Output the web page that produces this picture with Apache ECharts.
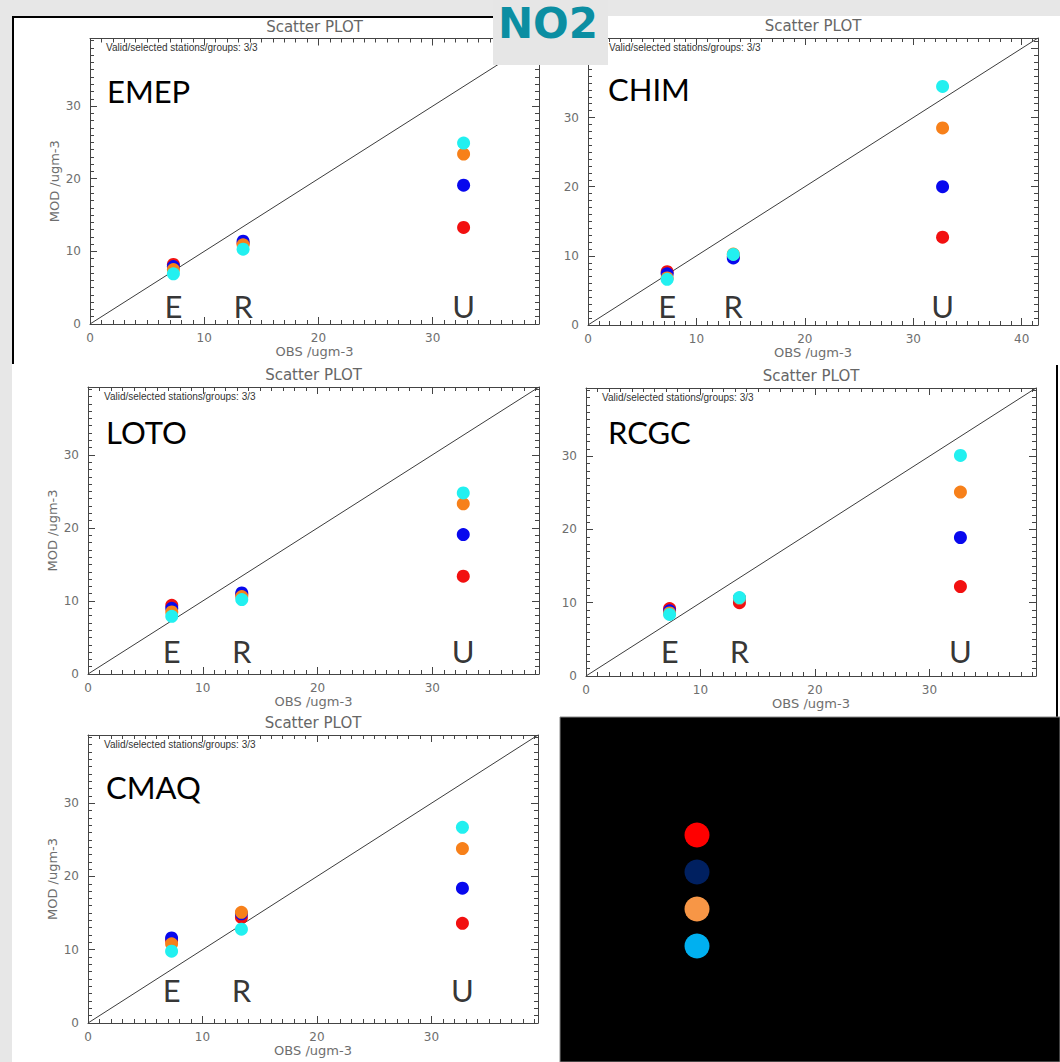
<!DOCTYPE html>
<html>
<head>
<meta charset="utf-8">
<title>NO2 scatter plots</title>
<script src="https://cdn.jsdelivr.net/npm/echarts@6/dist/echarts.min.js"></script>
<style>
  html, body { margin: 0; padding: 0; background: #e7e7e7; }
  #chart { width: 1060px; height: 1062px; }
</style>
</head>
<body>
<div id="chart"></div>
<script>
// Station groups and their observed NO2 means (ugm-3)
const groups = ['E', 'R', 'U'];
const obs = [7.3, 13.4, 32.7];

// Four simulation sets shown in every panel
const setNames = ['Set A', 'Set B', 'Set C', 'Set D'];
const setColors = ['#f21010', '#0808ee', '#f7801a', '#22f0f0'];
const legendColors = ['#ff0000', '#002060', '#f79646', '#00b0f0'];

// Modelled NO2 (ugm-3): one row per set, one column per group (E, R, U)
const models = ['EMEP', 'CHIM', 'LOTO', 'RCGC', 'CMAQ'];
const emep = [[8.2, 11.1, 13.3], [7.9, 11.4, 19.1], [7.5, 10.9, 23.4], [6.9, 10.3, 24.9]];
const chim = [[7.7, 9.9, 12.7], [7.4, 9.7, 20.0], [6.8, 10.25, 28.5], [6.6, 10.2, 34.5]];
const loto = [[9.4, 10.9, 13.4], [9.0, 11.1, 19.1], [8.5, 10.6, 23.3], [7.9, 10.2, 24.8]];
const rcgc = [[9.2, 10.0, 12.2], [8.9, 10.6, 18.9], [8.6, 10.6, 25.1], [8.4, 10.7, 30.1]];
const cmaq = [[11.3, 14.4, 13.6], [11.6, 14.9, 18.4], [10.8, 15.1, 23.8], [9.8, 12.8, 26.7]];
const modValues = [emep, chim, loto, rcgc, cmaq];

// Axis extents (same range on both axes, 1:1 line corner to corner)
const axisMax = [39.3, 41.5, 39.3, 39.3, 39.3];

// Page layout of each plot box
const layout = [
  { left: 90,  top: 38.5, width: 449, height: 285.5, yName: true,  yLabelTop: 30, noteDx: 16, nameDx: 17, nameDy: 52, lift: 6 },
  { left: 588, top: 38,   width: 450, height: 287,   yName: false, yLabelTop: 30, noteDx: 21, nameDx: 20, nameDy: 51, lift: 7 },
  { left: 88,  top: 387,  width: 451, height: 287,   yName: true,  yLabelTop: 30, noteDx: 16, nameDx: 18, nameDy: 45, lift: 11 },
  { left: 586, top: 388,  width: 450, height: 288,   yName: false, yLabelTop: 30, noteDx: 16, nameDx: 22, nameDy: 44, lift: 13 },
  { left: 88,  top: 735,  width: 450, height: 288,   yName: true,  yLabelTop: 30, noteDx: 16, nameDx: 18, nameDy: 52, lift: 21 }
];

const AXIS_COLOR = '#444444';
const LABEL_COLOR = '#6e6e6e';
const TICK_FONT = 'DejaVu Sans';

function axisCommon(max, showLabels) {
  return {
    type: 'value',
    min: 0,
    max: max,
    interval: 10,
    splitLine: { show: false },
    axisLine: { show: true, onZero: false, lineStyle: { color: AXIS_COLOR, width: 1 } },
    axisTick: { show: true, inside: true, length: 7, lineStyle: { color: AXIS_COLOR } },
    minorTick: { show: true, splitNumber: 10, length: 4, lineStyle: { color: AXIS_COLOR } },
    axisLabel: {
      show: showLabels, showMaxLabel: false,
      color: LABEL_COLOR, fontFamily: TICK_FONT, fontSize: 12
    }
  };
}

const grid = [], xAxis = [], yAxis = [], series = [], graphic = [];

// page furniture: white sheets, borders, legend panel, heading box
graphic.push(
  { type: 'rect', z: -20, shape: { x: 12, y: 16, width: 1048, height: 1046 }, style: { fill: '#ffffff' } },
  { type: 'rect', z: -19, shape: { x: 12, y: 16, width: 2, height: 348 }, style: { fill: '#000000' } },
  { type: 'rect', z: -19, shape: { x: 12, y: 16, width: 528, height: 2 }, style: { fill: '#000000' } },
  { type: 'rect', z: -19, shape: { x: 1056, y: 365, width: 2, height: 352 }, style: { fill: '#000000' } },
  { type: 'rect', z: -19, shape: { x: 560, y: 717, width: 500, height: 345 }, style: { fill: '#000000', stroke: '#888888', lineWidth: 1 } },
  { type: 'rect', z: 50, shape: { x: 493, y: 0, width: 115, height: 65 }, style: { fill: '#e6e6e6' } },
  { type: 'text', z: 51, x: 548, y: 23,
    style: { text: 'NO2', fontFamily: 'DejaVu Sans', fontWeight: 'bold', fontSize: 42, fill: '#0b8ea2',
             align: 'center', verticalAlign: 'middle', textAlign: 'center', textVerticalAlign: 'middle' } }
);

models.forEach((model, i) => {
  const L = layout[i];
  const max = axisMax[i];
  grid.push({ left: L.left, top: L.top, width: L.width, height: L.height });

  const xb = axisCommon(max, true);
  Object.assign(xb, {
    gridIndex: i, position: 'bottom',
    name: 'OBS /ugm-3', nameLocation: 'middle', nameGap: 20,
    nameTextStyle: { color: LABEL_COLOR, fontFamily: TICK_FONT, fontSize: 13 }
  });
  xb.axisLabel.margin = 8;
  const xt = axisCommon(max, false);
  Object.assign(xt, { gridIndex: i, position: 'top' });
  xAxis.push(xb, xt);

  const yl = axisCommon(max, true);
  Object.assign(yl, { gridIndex: i, position: 'left' });
  yl.axisLabel.margin = 9;
  yl.axisLabel.formatter = (v) => (v > L.yLabelTop ? '' : String(v));
  if (L.yName) {
    Object.assign(yl, {
      name: 'MOD /ugm-3', nameLocation: 'middle', nameGap: 29,
      nameTextStyle: { color: LABEL_COLOR, fontFamily: TICK_FONT, fontSize: 13 }
    });
  }
  const yr = axisCommon(max, false);
  Object.assign(yr, { gridIndex: i, position: 'right' });
  yAxis.push(yl, yr);

  // 1:1 reference line
  series.push({
    type: 'line', xAxisIndex: 2 * i, yAxisIndex: 2 * i,
    data: [[0, 0], [max, max]], symbol: 'none', silent: true, z: 1,
    lineStyle: { color: '#3c3c3c', width: 1 }
  });

  // modelled vs observed, one series per set
  modValues[i].forEach((row, s) => {
    series.push({
      name: setNames[s], type: 'scatter', xAxisIndex: 2 * i, yAxisIndex: 2 * i,
      symbolSize: 13, z: 3 + s,
      itemStyle: { color: setColors[s], opacity: 1 },
      data: row.map((v, g) => [obs[g], v])
    });
  });

  // group letters sitting on the x axis
  series.push({
    type: 'scatter', xAxisIndex: 2 * i, yAxisIndex: 2 * i, silent: true, z: 2,
    symbolSize: 1, itemStyle: { color: 'rgba(0,0,0,0)' },
    data: groups.map((g, k) => ({ name: g, value: [obs[k], 0] })),
    label: {
      show: true, position: 'top', distance: L.lift - 4, formatter: '{b}',
      color: '#000', fontFamily: 'Lato', fontSize: 31
    }
  });

  // panel captions
  graphic.push(
    { type: 'text', z: 10, x: L.left + L.width / 2, y: L.top - 12,
      style: { text: 'Scatter PLOT', fontFamily: TICK_FONT, fontSize: 15, fill: '#666666',
               align: 'center', verticalAlign: 'middle', textAlign: 'center', textVerticalAlign: 'middle' } },
    { type: 'text', z: 10, x: L.left + L.noteDx, y: L.top + 9,
      style: { text: 'Valid/selected stations/groups: 3/3', fontFamily: 'Liberation Sans', fontSize: 10, fill: '#333333',
               align: 'left', verticalAlign: 'middle', textAlign: 'left', textVerticalAlign: 'middle' } },
    { type: 'text', z: 10, x: L.left + L.nameDx, y: L.top + L.nameDy,
      style: { text: model, fontFamily: 'Lato', fontSize: 31, fill: '#000000',
               align: 'left', verticalAlign: 'middle', textAlign: 'left', textVerticalAlign: 'middle' } }
  );
});

const chart = echarts.init(document.getElementById('chart'), null, { renderer: 'svg' });
chart.setOption({
  backgroundColor: '#e7e7e7',
  animation: false,
  grid: grid,
  xAxis: xAxis,
  yAxis: yAxis,
  legend: {
    orient: 'vertical', left: 684.5, top: 822.5, padding: 0,
    itemWidth: 25, itemHeight: 25, itemGap: 12, icon: 'circle',
    selectedMode: false, formatter: () => '',
    data: setNames.map((n, s) => ({ name: n, itemStyle: { color: legendColors[s] } }))
  },
  graphic: graphic,
  series: series
});
</script>
</body>
</html>
